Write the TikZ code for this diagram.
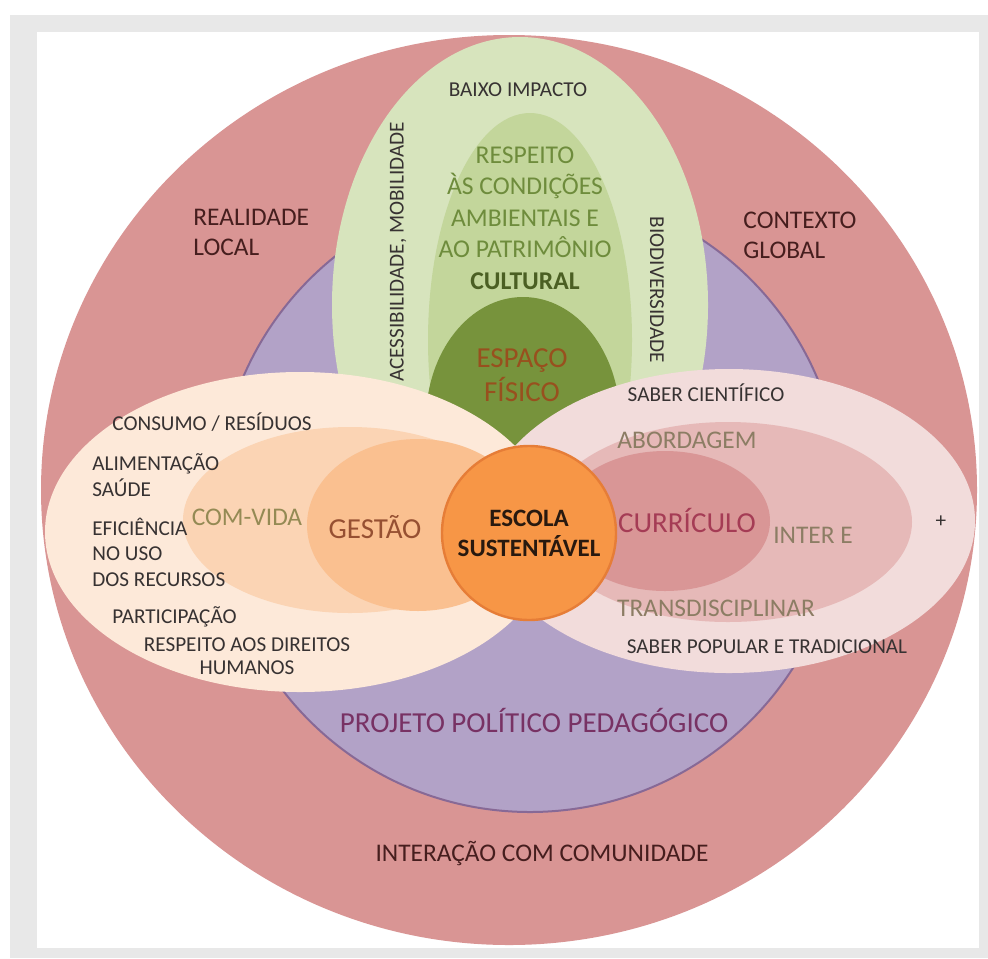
\documentclass[tikz,border=0pt]{standalone}
\usepackage{fontspec}
\setmainfont{Carlito}
\usepackage{tikz}
\usetikzlibrary{positioning}
\usepackage{xcolor}

\definecolor{framegray}{RGB}{232,232,232}
\definecolor{redring}{RGB}{217,149,148}
\definecolor{pppfill}{RGB}{178,162,199}
\definecolor{ppprim}{RGB}{135,105,150}
\definecolor{greenout}{RGB}{215,228,189}
\definecolor{greenmid}{RGB}{195,214,155}
\definecolor{greendark}{RGB}{119,147,60}
\definecolor{creamleft}{RGB}{253,233,217}
\definecolor{comvidafill}{RGB}{251,212,180}
\definecolor{gestaofill}{RGB}{250,192,144}
\definecolor{escolafill}{RGB}{247,150,70}
\definecolor{escolarim}{RGB}{230,125,55}
\definecolor{pinkout}{RGB}{242,220,219}
\definecolor{pinkmid}{RGB}{230,185,184}
\definecolor{pinkin}{RGB}{217,150,150}
\definecolor{darktxt}{RGB}{55,50,50}
\definecolor{maroontxt}{RGB}{70,30,30}
\definecolor{olivetxt}{RGB}{110,140,60}
\definecolor{cultxt}{RGB}{75,95,35}
\definecolor{fisicotxt}{RGB}{152,80,30}
\definecolor{comvidatxt}{RGB}{148,138,84}
\definecolor{gestaotxt}{RGB}{150,80,50}
\definecolor{abordtxt}{RGB}{140,125,100}
\definecolor{curritxt}{RGB}{165,60,85}
\definecolor{ppptxt}{RGB}{120,50,100}
\definecolor{escolatxt}{RGB}{40,25,15}

\begin{document}
\begin{tikzpicture}[x=0.5pt, y=-0.5pt,
		every node/.style={inner sep=0pt, align=center},
		smalltxt/.style={font=\fontsize{10.6}{12.75}\selectfont, text=darktxt},
		midtxt/.style={font=\fontsize{12.7}{15}\selectfont},
		bigtxt/.style={font=\fontsize{14.5}{17}\selectfont}
	]
	\useasboundingbox (0,0) rectangle (988,958);
	\fill[white] (0,0) rectangle (988,958);
	\fill[framegray] (10,15) rectangle (988,958);
	\fill[white] (37,32) rectangle (979,948);

	% outer rings
	\fill[redring] (509,490) ellipse [x radius=468, y radius=455];
	\filldraw[fill=pppfill, draw=ppprim, line width=1] (530,500) circle [radius=312];

	% espaco fisico
	\fill[greenout] (520,305) ellipse [x radius=188, y radius=268];
	\fill[greenmid] (530,340) ellipse [x radius=102, y radius=227];
	\fill[greendark] (523,420) ellipse [x radius=97, y radius=123];

	% gestao
	\fill[creamleft] (300,532) ellipse [x radius=255, y radius=160];
	\fill[comvidafill] (350,520) ellipse [x radius=167, y radius=93];
	\fill[gestaofill] (418,525) ellipse [x radius=111, y radius=86];

	% curriculo
	\fill[pinkout] (729,521) ellipse [x radius=246, y radius=152];
	\fill[pinkmid] (728,522) ellipse [x radius=184, y radius=100];
	\fill[pinkin] (665,521) ellipse [x radius=105, y radius=70];

	\node[circle, fill=escolafill, draw=escolarim, line width=1.2, minimum size=87pt,
		font=\bfseries\fontsize{12.5}{15}\selectfont, text=escolatxt] (escola) at (529,533) {ESCOLA\\SUSTENTÁVEL};

	\node[smalltxt] (baixo) at (518,90) {BAIXO IMPACTO};
	\node[midtxt, font=\fontsize{12.8}{15.8}\selectfont, text=olivetxt] (respeito) at (525,218)
		{RESPEITO\\ÀS CONDIÇÕES\\AMBIENTAIS E\\AO PATRIMÔNIO\\{\bfseries\color{cultxt}CULTURAL}};
	\node[bigtxt, text=fisicotxt] (espaco) at (522,375) {ESPAÇO\\FÍSICO};
	\node[smalltxt, rotate=90] (acess) at (398,252) {ACESSIBILIDADE, MOBILIDADE};
	\node[smalltxt, rotate=-90] (biodiv) at (657,290) {BIODIVERSIDADE};

	\node[midtxt, text=maroontxt, align=left, anchor=west] (realidade) at (193,232) {REALIDADE\\LOCAL};
	\node[midtxt, text=maroontxt, align=left, anchor=west] (contexto) at (743,235) {CONTEXTO\\GLOBAL};

	\node[smalltxt, anchor=west] (consumo) at (112,422) {CONSUMO / RESÍDUOS};
	\node[smalltxt, font=\fontsize{10.6}{13}\selectfont, align=left, anchor=west] (alim) at (92,475) {ALIMENTAÇÃO\\SAÚDE};
	\node[smalltxt, align=left, anchor=west] (efic) at (92,552) {EFICIÊNCIA\\NO USO\\DOS RECURSOS};
	\node[smalltxt, anchor=west] (partic) at (112,617) {PARTICIPAÇÃO};
	\node[smalltxt, font=\fontsize{10.6}{11.5}\selectfont] (direitos) at (247,656) {RESPEITO AOS DIREITOS\\HUMANOS};
	\node[midtxt, text=comvidatxt] (comvida) at (247,517) {COM-VIDA};
	\node[bigtxt, text=gestaotxt] (gestao) at (375,527) {GESTÃO};

	\node[smalltxt] (cientifico) at (706,393) {SABER CIENTÍFICO};
	\node[midtxt, text=abordtxt] (abordagem) at (687,440) {ABORDAGEM};
	\node[bigtxt, text=curritxt] (curriculo) at (687,520) {CURRÍCULO};
	\node[midtxt, text=abordtxt] (inter) at (813,535) {INTER E};
	\node[midtxt, text=abordtxt] (transd) at (716,608) {TRANSDISCIPLINAR};
	\node[smalltxt] (popular) at (767,647) {SABER POPULAR E TRADICIONAL};
	\node[smalltxt] (plus) at (941,522) {+};

	\node[bigtxt, text=ppptxt] (projeto) at (534,720) {PROJETO POLÍTICO PEDAGÓGICO};
	\node[midtxt, text=maroontxt] (interacao) at (542,853) {INTERAÇÃO COM COMUNIDADE};
\end{tikzpicture}
\end{document}
